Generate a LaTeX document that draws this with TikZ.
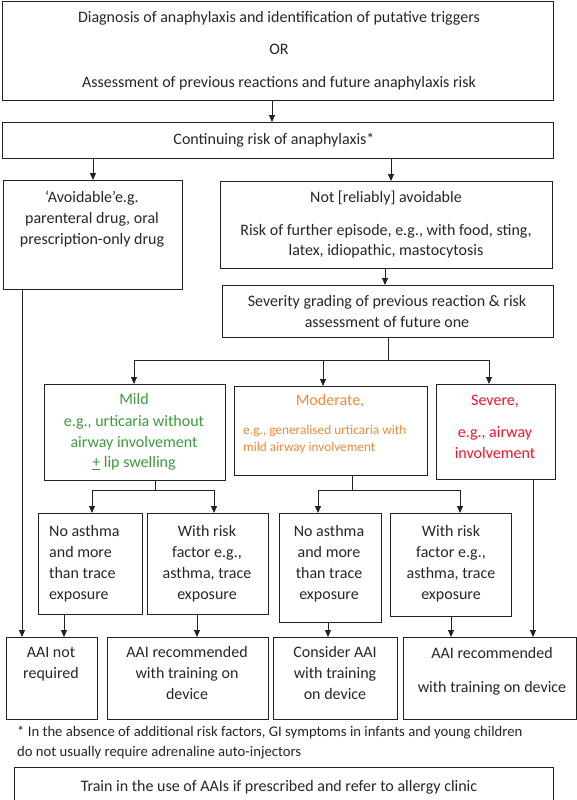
\documentclass[tikz,border=0pt]{standalone}
\usepackage{fontspec}
\setmainfont{Carlito}
\usetikzlibrary{arrows.meta}
\definecolor{mildg}{HTML}{3C9A3C}
\definecolor{modo}{HTML}{EE8A3C}
\definecolor{sevr}{HTML}{E8182C}
\definecolor{lnc}{HTML}{222222}
\tikzset{
  box/.style={draw=lnc, line width=0.9pt, anchor=north west, inner sep=0pt},
  arr/.style={draw=lnc, line width=0.9pt, -{Triangle[length=7pt,width=6pt]}},
  ln/.style={draw=lnc, line width=0.9pt},
  txt/.style={font=\fontsize{16}{21}\selectfont, inner sep=0pt, anchor=mid, text=black!85, yshift=-2pt},
  txtl/.style={txt, anchor=mid west},
  small/.style={font=\fontsize{13.3}{17}\selectfont, inner sep=0pt, anchor=mid west, text=modo, yshift=-1.5pt},
  foot/.style={font=\fontsize{14.7}{20}\selectfont, inner sep=0pt, anchor=mid west, text=black!85, yshift=-1.5pt},
}
\newcommand{\mkbox}[5]{\node[box, minimum width={(#4-#2)*1pt}, minimum height={(#5-#3)*1pt}] (#1) at (#2,#3) {};}
\begin{document}
\begin{tikzpicture}[x=1pt,y=-1pt]
\useasboundingbox (0,0) rectangle (577,800);
\clip (0,0) rectangle (577,800);
% boxes
\mkbox{b1}{2}{1}{553}{100}
\mkbox{b2}{2}{122}{553}{158}
\mkbox{b3}{3}{180}{182}{289}
\mkbox{b4}{220}{181}{552}{268}
\mkbox{b5}{222}{285}{553}{337}
\mkbox{mild}{44}{384}{225}{480}
\mkbox{mod}{234}{386}{427}{475}
\mkbox{sev}{436}{384}{555}{479}
\mkbox{na1}{38}{513}{142}{614}
\mkbox{wr1}{147}{513}{268}{614}
\mkbox{na2}{279}{513}{381}{622}
\mkbox{wr2}{390}{513}{511}{616}
\mkbox{r1}{6}{637}{97}{719}
\mkbox{r2}{107}{637}{268}{719}
\mkbox{r3}{273}{637}{397}{719}
\mkbox{r4}{403}{637}{575.5}{719}
\mkbox{bot}{14}{767}{553}{810}
% texts
\node[txt] (t1a) at (279,18) {Diagnosis of anaphylaxis and identification of putative triggers};
\node[txt] (t1b) at (279,50) {OR};
\node[txt] (t1c) at (279,83) {Assessment of previous reactions and future anaphylaxis risk};
\node[txt] (t2) at (274,140) {Continuing risk of anaphylaxis*};
\node[txt] (t3a) at (92,198) {‘Avoidable’e.g.};
\node[txt] (t3b) at (92,219) {parenteral drug, oral};
\node[txt] (t3c) at (92,240) {prescription-only drug};
\node[txt] (t4a) at (386,198) {Not [reliably] avoidable};
\node[txt] (t4b) at (386,231) {Risk of further episode, e.g., with food, sting,};
\node[txt] (t4c) at (386,251) {latex, idiopathic, mastocytosis};
\node[txt] (t5a) at (387,302) {Severity grading of previous reaction \& risk};
\node[txt] (t5b) at (387,323) {assessment of future one};
\node[txt,text=mildg] (tma) at (134,400) {Mild};
\node[txt,text=mildg] (tmb) at (134,422) {e.g., urticaria without};
\node[txt,text=mildg] (tmc) at (134,443) {airway involvement};
\node[txt,text=mildg] (tmd) at (134,463) {\underline{+} lip swelling};
\node[txt,text=modo] (toa) at (330,401) {Moderate,};
\node[small] (tob) at (243,431) {e.g., generalised urticaria with};
\node[small] (toc) at (243,448) {mild airway involvement};
\node[txt,text=sevr] (tsa) at (495,401) {Severe,};
\node[txt,text=sevr] (tsb) at (495,433) {e.g., airway};
\node[txt,text=sevr] (tsc) at (495,454) {involvement};
\node[txtl] (n1a) at (49,532) {No asthma};
\node[txtl] (n1b) at (49,553) {and more};
\node[txtl] (n1c) at (49,574) {than trace};
\node[txtl] (n1d) at (49,595) {exposure};
\node[txt] (w1a) at (207,532) {With risk};
\node[txt] (w1b) at (207,553) {factor e.g.,};
\node[txt] (w1c) at (207,574) {asthma, trace};
\node[txt] (w1d) at (207,595) {exposure};
\node[txt] (n2a) at (329,532) {No asthma};
\node[txt] (n2b) at (329,553) {and more};
\node[txt] (n2c) at (329,574) {than trace};
\node[txt] (n2d) at (329,595) {exposure};
\node[txt] (w2a) at (451,532) {With risk};
\node[txt] (w2b) at (451,553) {factor e.g.,};
\node[txt] (w2c) at (451,574) {asthma, trace};
\node[txt] (w2d) at (451,595) {exposure};
\node[txt] (r1a) at (51,653) {AAI not};
\node[txt] (r1b) at (51,674) {required};
\node[txt] (r2a) at (187,653) {AAI recommended};
\node[txt] (r2b) at (187,674) {with training on};
\node[txt] (r2c) at (187,695) {device};
\node[txt] (r3a) at (335,653) {Consider AAI};
\node[txt] (r3b) at (335,674) {with training};
\node[txt] (r3c) at (335,695) {on device};
\node[txt] (r4a) at (492,654) {AAI recommended};
\node[txt] (r4b) at (492,688) {with training on device};
\node[foot] (fa) at (17,733) {* In the absence of additional risk factors, GI symptoms in infants and young children};
\node[foot] (fb) at (17,753) {do not usually require adrenaline auto-injectors};
\node[txt] (tb) at (279,787) {Train in the use of AAIs if prescribed and refer to allergy clinic};
% connectors
\draw[arr] (272,0 |- b1.south) -- (272,0 |- b2.north);
\draw[arr] (93,0 |- b2.south) -- (93,0 |- b3.north);
\draw[arr] (391,0 |- b2.south) -- (391,0 |- b4.north);
\draw[arr] (385,0 |- b4.south) -- (385,0 |- b5.north);
\coordinate (h5) at (388,360);
\draw[ln] (388,0 |- b5.south) -- (h5);
\draw[ln] (134,360) -- (489,360);
\draw[arr] (134,360) -- (134,0 |- mild.north);
\draw[arr] (323,360) -- (323,0 |- mod.north);
\draw[arr] (489,360) -- (489,0 |- sev.north);
\coordinate (hm) at (155,490);
\draw[ln] (155,0 |- mild.south) -- (hm);
\draw[ln] (92,490) -- (214,490);
\draw[arr] (92,490) -- (92,0 |- na1.north);
\draw[arr] (214,490) -- (214,0 |- wr1.north);
\coordinate (ho) at (352,490);
\draw[ln] (352,0 |- mod.south) -- (ho);
\draw[ln] (318,490) -- (460,490);
\draw[arr] (318,490) -- (318,0 |- na2.north);
\draw[arr] (460,490) -- (460,0 |- wr2.north);
\draw[arr] (533,0 |- sev.south) -- (533,0 |- r4.north);
\draw[arr] (22,0 |- b3.south) -- (22,0 |- r1.north);
\draw[arr] (64,0 |- na1.south) -- (64,0 |- r1.north);
\draw[arr] (197,0 |- wr1.south) -- (197,0 |- r2.north);
\draw[arr] (328,0 |- na2.south) -- (328,0 |- r3.north);
\draw[arr] (451,0 |- wr2.south) -- (451,0 |- r4.north);
\end{tikzpicture}
\end{document}
